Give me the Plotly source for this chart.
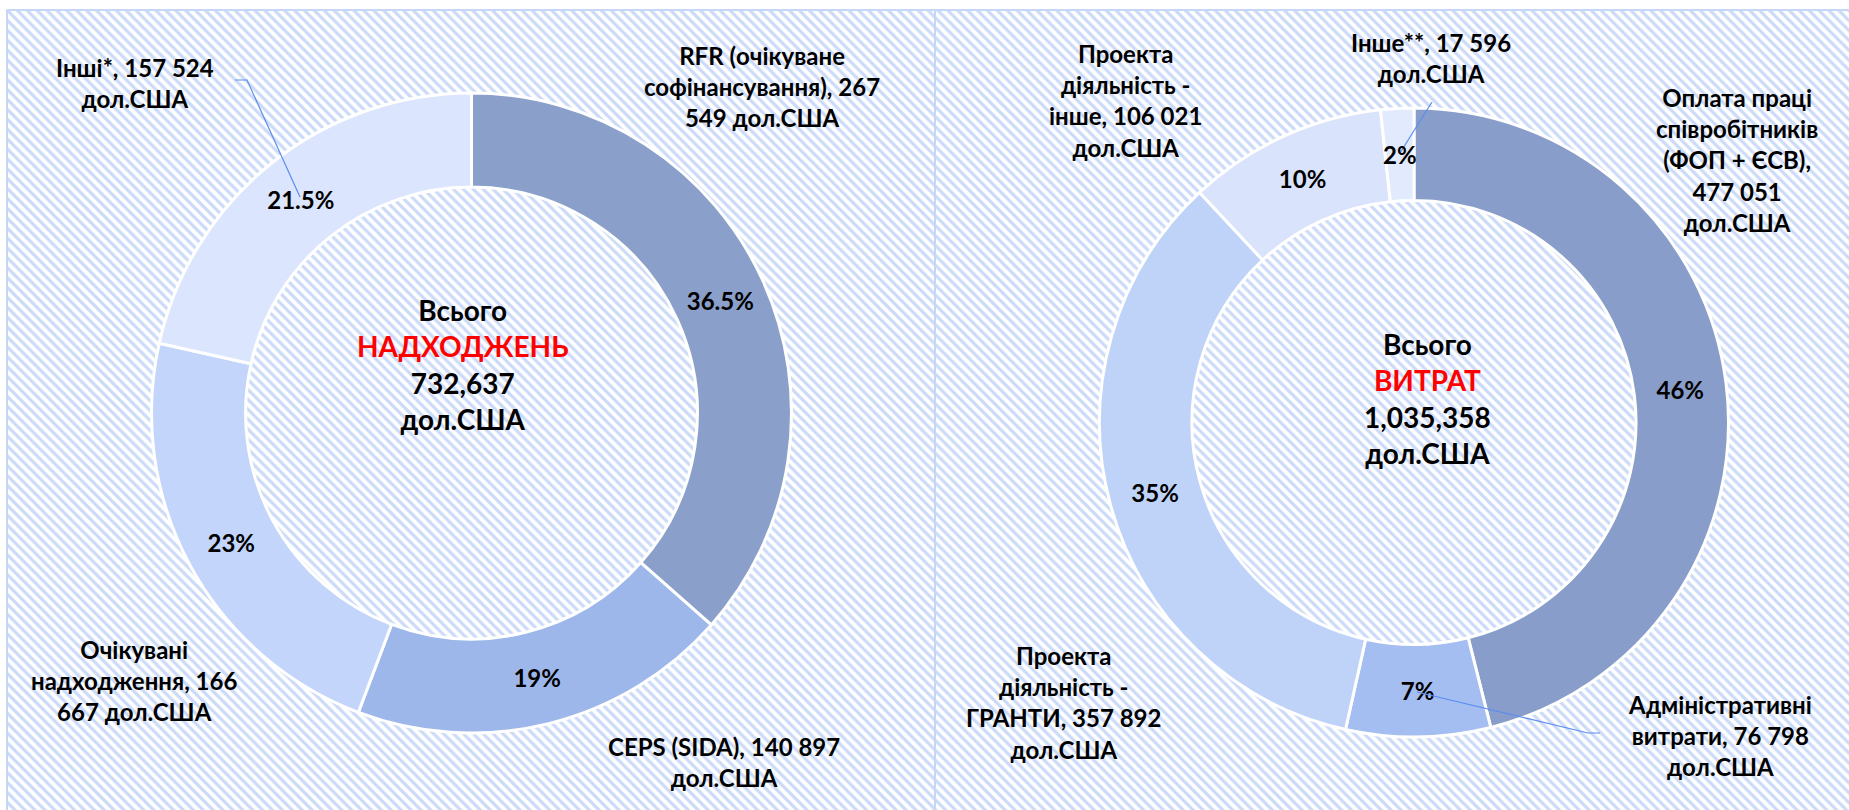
import math
import plotly.graph_objects as go

W, H = 1849, 810
FONT = "Lato, 'Noto Sans', sans-serif"

# ---------------- data ----------------
inc_names = ["RFR (очікуване софінансування)", "CEPS (SIDA)", "Очікувані надходження", "Інші*"]
inc_values = [267549, 140897, 166667, 157524]
inc_pct = ["36.5%", "19%", "23%", "21.5%"]
inc_colors = ["#8aa0cb", "#9db7ea", "#c3d5fb", "#dbe5fd"]
inc_ext = [
    "RFR (очікуване<br>софінансування), 267<br>549 дол.США",
    "CEPS (SIDA), 140 897<br>дол.США",
    "Очікувані<br>надходження, 166<br>667 дол.США",
    "Інші*, 157 524<br>дол.США",
]

exp_names = ["Оплата праці співробітників (ФОП + ЄСВ)", "Адміністративні витрати",
             "Проекта діяльність - ГРАНТИ", "Проекта діяльність - інше", "Інше**"]
exp_values = [477051, 76798, 357892, 106021, 17596]
exp_pct = ["46%", "7%", "35%", "10%", "2%"]
exp_colors = ["#889dc9", "#a5bef1", "#bfd3f9", "#d9e4fc", "#e2eafd"]
exp_ext = [
    "Оплата праці<br>співробітників<br>(ФОП + ЄСВ),<br>477 051<br>дол.США",
    "Адміністративні<br>витрати, 76 798<br>дол.США",
    "Проекта<br>діяльність -<br>ГРАНТИ, 357 892<br>дол.США",
    "Проекта<br>діяльність -<br>інше, 106 021<br>дол.США",
    "Інше**, 17 596<br>дол.США",
]

inc_total = f"{sum(inc_values):,}"
exp_total = f"{sum(exp_values):,}"

HOLE = 0.706
SMALL = 0.03  # slices below this share get their % label placed as an annotation

# ---------------- helpers (pixel -> paper) ----------------
def fx(x):
    return x / W

def fy(y):
    return 1 - y / H

fig = go.Figure()

# hatched background panel
fig.add_trace(go.Bar(
    x=[0.5], y=[1], width=[1], xaxis="x", yaxis="y",
    marker=dict(color="white", line=dict(width=0),
                pattern=dict(shape="\\", size=7, solidity=0.45,
                             fgcolor="#cbdaf8", bgcolor="white", fillmode="replace")),
    hoverinfo="skip", showlegend=False,
))

annotations = []

def lab(text, x, y, size=24):
    annotations.append(dict(
        text=f"<b>{text}</b>", x=fx(x), y=fy(y), xref="paper", yref="paper",
        showarrow=False, xanchor="center", yanchor="middle", align="center",
        font=dict(size=size, color="black", family=FONT),
    ))

# donuts
def donut(values, names, texts, colors, cx, cy, r):
    total = sum(values)
    shown = []
    cum = 0
    for v, t in zip(values, texts):
        frac = v / total
        if frac < SMALL:
            shown.append("")
            ang = 2 * math.pi * (cum + frac / 2)
            rm = r * (1 + HOLE) / 2
            lab(t, cx + rm * math.sin(ang), cy - rm * math.cos(ang))
        else:
            shown.append(t)
        cum += frac
    return go.Pie(
        values=values, labels=names, text=shown, texttemplate="<b>%{text}</b>",
        textposition="inside", insidetextorientation="horizontal",
        textfont=dict(size=24, color="black", family=FONT),
        hole=HOLE, sort=False, direction="clockwise", rotation=0,
        marker=dict(colors=colors, line=dict(color="white", width=3)),
        domain=dict(x=[fx(cx - r), fx(cx + r)], y=[fy(cy + r), fy(cy - r)]),
        showlegend=False, hoverinfo="label+value+percent",
    )

fig.add_trace(donut(inc_values, inc_names, inc_pct, inc_colors, 471.5, 413, 320))
fig.add_trace(donut(exp_values, exp_names, exp_pct, exp_colors, 1414, 422.5, 314.5))

# outside labels
lab(inc_ext[0], 762, 87)
lab(inc_ext[1], 724, 762)
lab(inc_ext[2], 134, 680)
lab(inc_ext[3], 135, 83)

lab(exp_ext[0], 1737, 160)
lab(exp_ext[1], 1720, 735)
lab(exp_ext[2], 1063, 702)
lab(exp_ext[3], 1125, 101)
lab(exp_ext[4], 1431, 58)

# centre texts
lab(f"Всього<br><span style='color:#ff0000'>НАДХОДЖЕНЬ</span><br>{inc_total}<br>дол.США", 462, 364, 28)
lab(f"Всього<br><span style='color:#ff0000'>ВИТРАТ</span><br>{exp_total}<br>дол.США", 1427, 398, 28)

BORDER = "#c6d6f6"
LEADER = "#5b8def"
shapes = [
    dict(type="line", xref="paper", yref="paper", x0=fx(7), x1=fx(7), y0=fy(10), y1=fy(812),
         line=dict(color=BORDER, width=2)),
    dict(type="line", xref="paper", yref="paper", x0=fx(7), x1=fx(1851), y0=fy(10), y1=fy(10),
         line=dict(color=BORDER, width=2)),
    dict(type="line", xref="paper", yref="paper", x0=fx(935), x1=fx(935), y0=fy(10), y1=fy(812),
         line=dict(color=BORDER, width=2)),
    # leader lines
    dict(type="path", xref="paper", yref="paper",
         path=f"M {fx(235)},{fy(80)} L {fx(247)},{fy(80)} L {fx(300)},{fy(197)}",
         line=dict(color=LEADER, width=1.2)),
    dict(type="path", xref="paper", yref="paper",
         path=f"M {fx(1432)},{fy(102)} L {fx(1400)},{fy(153)}",
         line=dict(color=LEADER, width=1.2)),
    dict(type="path", xref="paper", yref="paper",
         path=f"M {fx(1417)},{fy(692)} L {fx(1588)},{fy(733)} L {fx(1600)},{fy(733)}",
         line=dict(color=LEADER, width=1.2)),
]

fig.update_layout(
    width=W, height=H, margin=dict(l=0, r=0, t=0, b=0),
    paper_bgcolor="white", plot_bgcolor="rgba(0,0,0,0)",
    font=dict(family=FONT, color="black"),
    xaxis=dict(domain=[fx(7), 1], range=[0, 1], visible=False, fixedrange=True),
    yaxis=dict(domain=[0, fy(10)], range=[0, 1], visible=False, fixedrange=True),
    bargap=0, showlegend=False,
    annotations=annotations, shapes=shapes,
)

fig.write_html("out.html")
